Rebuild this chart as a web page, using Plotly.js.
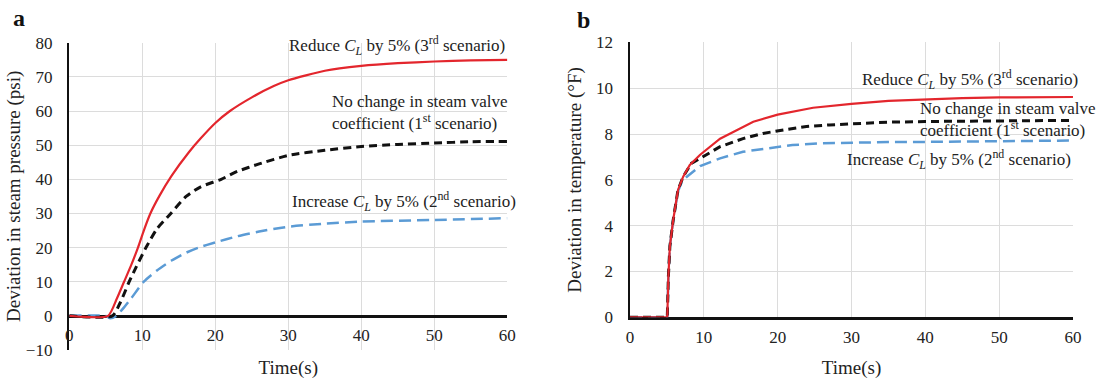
<!DOCTYPE html>
<html>
<head>
<meta charset="utf-8">
<script src="https://cdn.plot.ly/plotly-3.0.1.min.js"></script>
<style>html,body{margin:0;padding:0;background:#fff;}#chart{width:1097px;height:379px;}</style>
</head>
<body>
<div id="chart"></div>
<script>
// ---- Panel a: deviation in steam pressure (psi) ----
const tA_reduce = [0,5.3,6.5,7.5,8.5,9.4,10.2,11.1,12.3,14,16.4,18,20,22,25,28,30,35,40,45,50,55,60];
const pA_reduce = [0,0,5,10,15,20,25,30,35,41,48,52,56.5,60,64,67.3,69,71.8,73.2,74,74.5,74.8,75];
const tA_nochange = [0,5.9,7,8.2,9.2,10.5,12,13.9,16,18,20.8,23,26,30,35,40,45,50,55,60];
const pA_nochange = [0,0,4,10,14.5,20,25.5,30,35,37.8,40,42.3,44.5,47,48.5,49.6,50.2,50.6,51,51.1];
const tA_increase = [0,5,5.6,6.4,7.5,8.5,10.2,12,14,16,17.7,20,23,26,30,35,40,50,60];
const pA_increase = [0,0,-0.7,0,2.5,5.2,10,13.3,16.2,18.5,20,21.5,23.3,24.7,26.1,27,27.6,28.1,28.6];

// ---- Panel b: deviation in temperature (°F) ----
const tB_reduce = [0,5.05,5.2,5.4,5.85,6.5,7.2,8.1,9.5,12.2,16.7,20,24.8,30,35,40,45,50,60];
const vB_reduce = [0,0,1.8,3.1,4.25,5.56,6.14,6.65,7.1,7.8,8.54,8.85,9.15,9.32,9.45,9.52,9.57,9.6,9.62];
const tB_nochange = [0,5.05,5.2,5.4,5.85,6.5,7.2,8.3,9.5,12.2,15.3,18,21.2,23.9,27,30.6,35,40,50,60];
const vB_nochange = [0,0,1.8,3.1,4.25,5.56,6.14,6.72,6.94,7.45,7.8,8.03,8.2,8.33,8.4,8.46,8.52,8.55,8.58,8.6];
const tB_increase = [0,5.05,5.2,5.4,5.85,6.5,7.0,7.7,9.5,12.2,15.3,18.5,22,25.7,30.2,35,40,50,60];
const vB_increase = [0,0,1.8,3.1,4.25,5.5,5.9,6.14,6.6,6.94,7.23,7.38,7.52,7.6,7.63,7.65,7.66,7.7,7.72];

const xTicks = [0,10,20,30,40,50,60];
const yTicksA = [-10,0,10,20,30,40,50,60,70,80];
const yTicksB = [0,2,4,6,8,10,12];

const RED = '#e3262d', BLACK = '#111111', BLUE = '#5b9bd5';
const FONT = 'Liberation Serif';

const traces = [
  {x:tA_increase, y:pA_increase, xaxis:'x', yaxis:'y', mode:'lines', line:{color:BLUE, width:2.5, dash:'12px,6px', shape:'spline', smoothing:0.6}},
  {x:tA_nochange, y:pA_nochange, xaxis:'x', yaxis:'y', mode:'lines', line:{color:BLACK, width:3, dash:'8px,5px', shape:'spline', smoothing:0.6}},
  {x:tA_reduce, y:pA_reduce, xaxis:'x', yaxis:'y', mode:'lines', line:{color:RED, width:2.2, shape:'spline', smoothing:0.6}},
  {x:tB_increase, y:vB_increase, xaxis:'x2', yaxis:'y2', mode:'lines', line:{color:BLUE, width:2.5, dash:'12px,6px'}},
  {x:tB_nochange, y:vB_nochange, xaxis:'x2', yaxis:'y2', mode:'lines', line:{color:BLACK, width:3, dash:'8px,5px'}},
  {x:tB_reduce, y:vB_reduce, xaxis:'x2', yaxis:'y2', mode:'lines', line:{color:RED, width:2.2}}
];

const gridC = '#dcdcdc';
const axisCommon = {
  showgrid:true, gridcolor:gridC, gridwidth:1, zeroline:false,
  showline:true, linecolor:BLACK, linewidth:2.5, ticks:'', layer:'below traces',
  tickfont:{family:FONT, size:17, color:'#222'}
};

const ann = (xr, yr, x, y, text, xanchor, xshift) => ({
  xref:xr, yref:yr, x:x, y:y, text:text, showarrow:false,
  xanchor:xanchor, yanchor:'middle', align:'left', xshift:xshift || 0,
  font:{family:FONT, size:17, color:'#222'}
});

const layout = {
  width:1097, height:379,
  margin:{l:0, r:0, t:0, b:0},
  paper_bgcolor:'#ffffff', plot_bgcolor:'#ffffff',
  showlegend:false,
  font:{family:FONT, color:'#222'},
  xaxis:Object.assign({}, axisCommon, {
    domain:[0.0632, 0.4625], range:[0,60], tickvals:xTicks,
    anchor:'free', position:0.1662, ticklabelstandoff:3,
    title:{text:'Time(s)', font:{family:FONT, size:19, color:'#222'}}
  }),
  yaxis:Object.assign({}, axisCommon, {
    domain:[0.0765, 0.8873], range:[-10,80], tickvals:yTicksA, anchor:'x',
    ticklabelstandoff:11,
    title:{text:'Deviation in steam pressure (psi)', font:{family:FONT, size:19, color:'#222'}}
  }),
  xaxis2:Object.assign({}, axisCommon, {
    domain:[0.5743, 0.9781], range:[0,60], tickvals:xTicks, anchor:'y2',
    ticklabelstandoff:3,
    title:{text:'Time(s)', font:{family:FONT, size:19, color:'#222'}}
  }),
  yaxis2:Object.assign({}, axisCommon, {
    domain:[0.1628, 0.8879], range:[0,12], tickvals:yTicksB, anchor:'x2',
    ticklabelstandoff:11,
    title:{text:'Deviation in temperature (°F)', font:{family:FONT, size:19, color:'#222'}}
  }),
  annotations:[
    ann('x','y',60,79.2,'Reduce <i>C</i><sub><i>L</i></sub> by 5% (3<sup>rd</sup> scenario)','right'),
    ann('x','y',35.7,59.7,'No change in steam valve<br>coefficient (1<sup>st</sup> scenario)','left'),
    ann('x','y',30.2,33.4,'Increase <i>C</i><sub><i>L</i></sub> by 5% (2<sup>nd</sup> scenario)','left'),
    ann('x2','y2',60,10.39,'Reduce <i>C</i><sub><i>L</i></sub> by 5% (3<sup>rd</sup> scenario)','right', 7),
    ann('x2','y2',39.0,8.65,'No change in steam valve<br>coefficient (1<sup>st</sup> scenario)','left'),
    ann('x2','y2',29.1,6.88,'Increase <i>C</i><sub><i>L</i></sub> by 5% (2<sup>nd</sup> scenario)','left'),
    {xref:'paper', yref:'paper', x:19/1097, y:1-18/379, text:'<b>a</b>', showarrow:false,
     xanchor:'center', yanchor:'middle', font:{family:FONT, size:24, color:'#111'}},
    {xref:'paper', yref:'paper', x:583/1097, y:1-20/379, text:'<b>b</b>', showarrow:false,
     xanchor:'center', yanchor:'middle', font:{family:FONT, size:24, color:'#111'}}
  ]
};

Plotly.newPlot('chart', traces, layout, {staticPlot:true, displayModeBar:false});
</script>
</body>
</html>
